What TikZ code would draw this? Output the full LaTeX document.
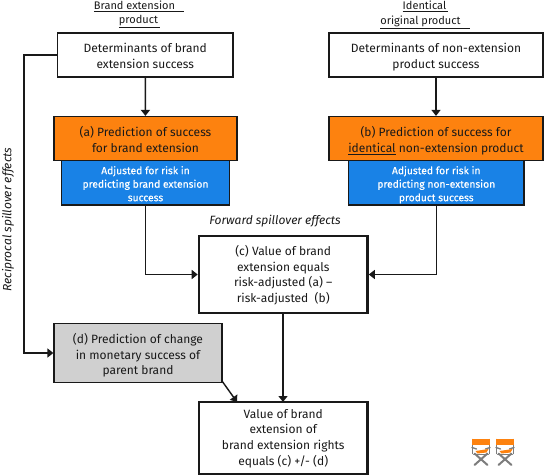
\documentclass[tikz,border=0pt]{standalone}
\usepackage{fontspec}
\setmainfont{Fira Sans}
\newfontfamily\bluefont[FakeBold=0.35]{Fira Sans}
\usetikzlibrary{arrows.meta}
\definecolor{fillorange}{RGB}{253,130,15}
\definecolor{fillblue}{RGB}{25,130,230}
\definecolor{fillgrey}{RGB}{208,208,208}
\definecolor{inkc}{RGB}{25,25,25}
\definecolor{chairgrey}{RGB}{125,125,125}
\newcommand{\boxat}[6]{\node[#1,minimum width=#4pt-#2pt,minimum height=#5pt-#3pt] (#6) at ({(#2+#4)/2},{(#3+#5)/2})}
\newcommand{\tp}[1]{\rule{0pt}{#1pt}}
\newcommand{\bt}{\rule[-3.5pt]{0pt}{0pt}}
\tikzset{
 x=1pt,y=-1pt,
 base/.style={draw=inkc,inner sep=0pt,align=center,text=inkc,line width=1.2pt,font=\fontsize{12}{15.6}\selectfont},
 plainbox/.style={base,fill=white},
 orangebox/.style={base,fill=fillorange},
 bluebox/.style={base,fill=fillblue,text=white,font=\bluefont\fontsize{10.3}{13.5}\selectfont},
 greybox/.style={base,fill=fillgrey},
 heavybox/.style={base,fill=white,line width=2.6pt},
 link/.style={draw=inkc,line width=1.4pt},
 arrowlink/.style={link,-{Triangle[length=6pt,width=9pt]}},
 heading/.style={text=inkc,inner sep=0pt,font=\fontsize{11}{13}\selectfont},
 side/.style={text=inkc,inner sep=0pt,font=\fontsize{12}{14}\selectfont\itshape},
 chairbar/.style={draw=chairgrey,line width=1.4pt,line cap=round},
}
\newcommand{\chair}[2]{%
 \begin{scope}[shift={(#1,#2)}]
 \draw[chairbar] (1,1) -- (1,15);
 \draw[chairbar] (18,1) -- (18,15);
 \draw[chairbar] (0.5,9) -- (5,10.5);
 \draw[chairbar] (18.5,9) -- (14,10.5);
 \draw[chairbar,line width=2pt] (3,26.5) -- (16,15);
 \draw[chairbar,line width=2pt] (16,26.5) -- (3,15);
 \draw[chairbar,line width=1pt] (2,15.5) -- (17,15.5);
 \fill[fillorange] (0.5,0.5) rectangle (18.5,6.5);
 \fill[fillorange] (4,12.5) -- (17,10.5) -- (15,14) -- (6,15) -- cycle;
 \end{scope}}
\begin{document}
\begin{tikzpicture}
\useasboundingbox (0,0) rectangle (544,476);
\node[heading] (h1) at (139,6.5) {\underline{Brand extension\kern 9pt}};
\node[heading] (h2) at (139.5,22) {\underline{product\kern 2pt}};
\node[heading] (h3) at (425.5,6.5) {\underline{Identical\kern 2pt}};
\node[heading] (h4) at (425,22) {\underline{original product\kern 9pt}};

\boxat{plainbox}{57.5}{33}{233}{77}{d1} {\tp{14.9}Determinants of brand\\extension success\bt};
\boxat{plainbox}{329}{33}{543}{77}{d2} {\tp{14.9}Determinants of non-extension\\product success\bt};
\boxat{bluebox}{61.5}{160.5}{229.5}{205}{r1} {\tp{13.4}Adjusted for risk in\\predicting brand extension\\success\bt};
\boxat{bluebox}{348.5}{160.5}{524}{205}{r2} {\tp{13.4}Adjusted for risk in\\predicting non-extension\\product success\bt};
\boxat{orangebox}{54}{116.5}{237}{160.5}{p1} {\tp{15.4}(a) Prediction of success\\for brand extension\bt};
\boxat{orangebox}{329}{116.5}{543}{160.5}{p2} {\tp{15.4}(b) Prediction of success for\\\underline{identical} non-extension product\bt};
\boxat{heavybox}{199}{236}{367.5}{313}{c} {\tp{12.5}(c) Value of brand\\extension equals\\risk-adjusted (a) –\\risk-adjusted\ \ (b)\bt};
\boxat{greybox}{54}{323.5}{222}{382.5}{dd} {\tp{15.5}(d) Prediction of change\\in monetary success of\\parent brand\bt};
\boxat{heavybox}{199}{402}{367.5}{474}{e} {\tp{10.9}Value of brand\\extension of\\brand extension rights\\equals (c) +/- (d)\bt};

\node[side] (fw) at (275,221) {Forward spillover effects};
\node[side,rotate=90] (rc) at (8,219.5) {Reciprocal spillover effects};

\coordinate (eb) at (222,381);
\draw[arrowlink] (d1) -- (p1);
\draw[arrowlink] (d2) -- (p2);
\draw[arrowlink] (r1.south) |- (c.west);
\draw[arrowlink] (r2.south) |- (c.east);
\draw[arrowlink] (d1.west |- 0,55) -| (24,353) -- (dd.west |- 0,353);
\draw[arrowlink] (283,313) -- (283,402);
\draw[arrowlink] (eb) -- (237,402);

\chair{471.5}{438.5}
\chair{495.5}{438.5}
\end{tikzpicture}
\end{document}
